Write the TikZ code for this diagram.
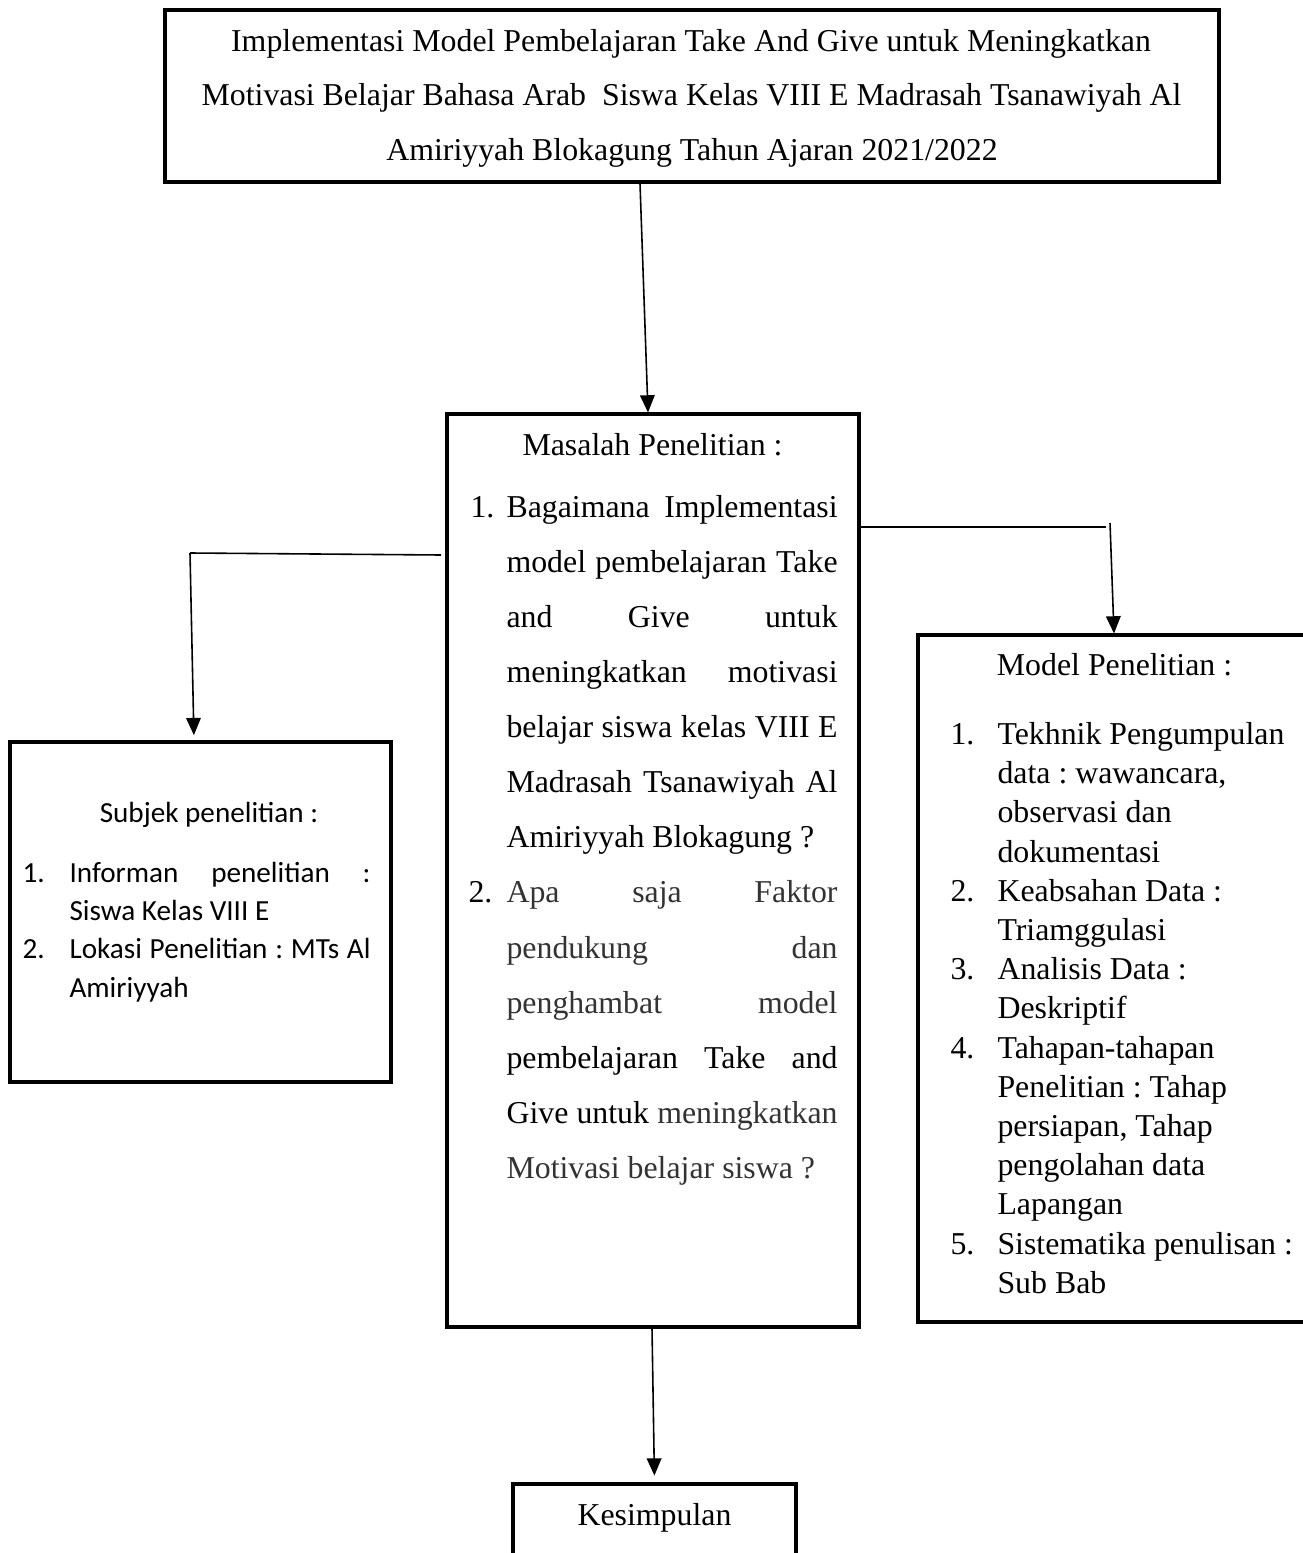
\documentclass[tikz,border=0pt]{standalone}
\usepackage{fontspec}
\setmainfont{Liberation Serif}
\newfontfamily\calibri{Carlito}
\usetikzlibrary{arrows.meta,fit}
\definecolor{softblack}{gray}{0.2}
\frenchspacing
\newcommand\JLine[4]{\node[txt, anchor=base west] (#1) at (#2) {\makebox[#3][s]{#4}};}
\newcommand\SJLine[4]{\node[stxt, anchor=base west] (#1) at (#2) {\makebox[#3][s]{#4}};}
\begin{document}
\frenchspacing
\begin{tikzpicture}[x=0.377pt,y=-0.377pt,
  box/.style={draw, line width=1.15pt, inner sep=0pt},
  conn/.style={line width=0.6pt},
  arr/.style={conn, -{Triangle[width=5.5pt,length=6.5pt]}},
  txt/.style={inner sep=0pt, font=\fontsize{12}{14}\selectfont},
  stxt/.style={inner sep=0pt, font=\calibri\fontsize{11}{13}\selectfont},
]
\useasboundingbox (0,0) rectangle (1303,1553);
\fill[white] (0,0) rectangle (1303,1553);

% boxes
\node[box, fit={(165,10) (1219,182)}] (top) {};
\node[box, fit={(447,414) (859,1327)}] (mid) {};
\node[box, fit={(10,742) (391,1082)}] (left) {};
\node[box, fit={(918,635) (1306,1322)}] (right) {};
\node[box, fit={(513,1484) (796,1590)}] (kes) {};

% top text
\node[txt, anchor=base] (t1) at (691,52) {Implementasi Model Pembelajaran Take And Give untuk Meningkatkan};
\node[txt, anchor=base] (t2) at (691.5,106) {Motivasi Belajar Bahasa Arab~ Siswa Kelas VIII E Madrasah Tsanawiyah Al};
\node[txt, anchor=base] (t3) at (692,161) {Amiriyyah Blokagung Tahun Ajaran 2021/2022};

% middle text
\node[txt, anchor=base] (mt) at (652.5,455) {Masalah Penelitian :};
\node[txt, anchor=base west] (mn1) at (470,517) {1.};
\JLine{m1}{506,517}{124.8pt}{Bagaimana Implementasi}
\JLine{m2}{506,572}{124.8pt}{model pembelajaran Take}
\JLine{m3}{506,627}{124.8pt}{and Give untuk}
\JLine{m4}{506,682}{124.8pt}{meningkatkan motivasi}
\JLine{m5}{506,737}{124.8pt}{belajar siswa kelas VIII E}
\JLine{m6}{506,792}{124.8pt}{Madrasah Tsanawiyah Al}
\node[txt, anchor=base west] (m7) at (506,847) {Amiriyyah Blokagung ?};
\node[txt, anchor=base west] (mn2) at (468,902) {2.};
\JLine{m8}{506,902}{124.8pt}{\color{softblack}Apa saja Faktor}
\JLine{m9}{506,958}{124.8pt}{\color{softblack}pendukung dan}
\JLine{m10}{506,1013}{124.8pt}{\color{softblack}penghambat model}
\JLine{m11}{506,1068}{124.8pt}{pembelajaran Take and}
\JLine{m12}{506,1123}{124.8pt}{Give untuk {\color{softblack}meningkatkan}}
\node[txt, anchor=base west, text=softblack] (m13) at (506,1178) {Motivasi belajar siswa ?};

% left text
\node[stxt, anchor=base] (lt) at (209,822) {Subjek penelitian :};
\node[stxt, anchor=base west] (ln1) at (22,882) {1.};
\SJLine{l1}{69,882}{113.5pt}{Informan penelitian :}
\node[stxt, anchor=base west] (l2) at (69,920) {Siswa Kelas VIII E};
\node[stxt, anchor=base west] (ln2) at (22,958) {2.};
\SJLine{l3}{69,958}{113.5pt}{Lokasi Penelitian : MTs Al}
\node[stxt, anchor=base west] (l4) at (69,997) {Amiriyyah};

% right text
\node[txt, anchor=base] (rt) at (1114.5,675) {Model Penelitian :};
\foreach \t [count=\i from 0] in {Tekhnik Pengumpulan, {data : wawancara,}, observasi dan, dokumentasi, Keabsahan Data :, Triamggulasi, Analisis Data :, Deskriptif, Tahapan-tahapan, Penelitian : Tahap, {persiapan, Tahap}, pengolahan data, Lapangan, Sistematika penulisan :, Sub Bab}
  \node[txt, anchor=base west] (r\i) at (997,{744.5+39.2*\i}) {\t};
\foreach \n/\k in {1/0, 2/4, 3/6, 4/8, 5/13}
  \node[txt, anchor=base west] (rn\n) at (950,{744.5+39.2*\k}) {\n.};

% bottom text
\node[txt, anchor=base] (kt) at (654.5,1525) {Kesimpulan};

% connectors
\coordinate (lstart) at (441,555);
\coordinate (lc) at (190,553);
\coordinate (rc1) at (1106,527);
\coordinate (rc2) at (1110,523);
\draw[arr] (top.south -| 640,0) -- (mid.north -| 648,0);
\draw[conn] (lstart) -- (lc);
\draw[arr, shorten >=2pt] (lc) -- (left.north -| 194,0);
\draw[conn] (mid.east |- 0,527) -- (rc1);
\draw[arr] (rc2) -- (right.north -| 1114,0);
\draw[arr, shorten >=2.6pt] (mid.south -| 652,0) -- (kes.north -| 654.5,0);
\end{tikzpicture}
\end{document}
